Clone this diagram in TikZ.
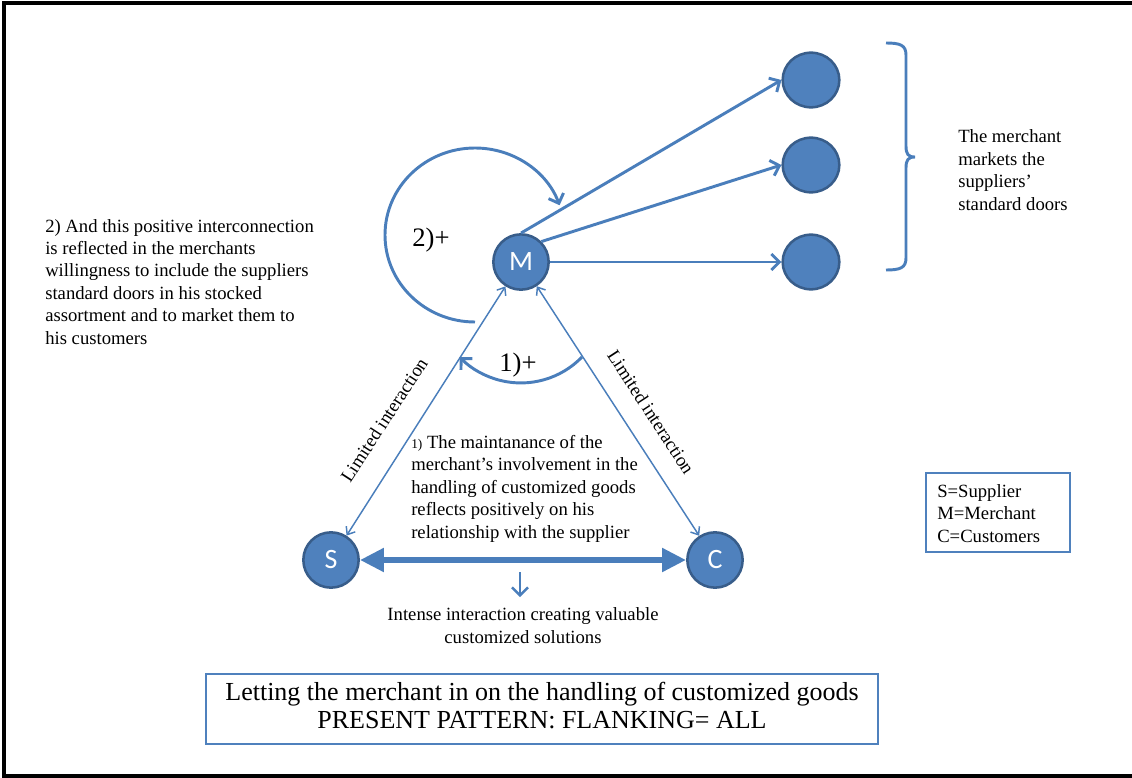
\documentclass[tikz,border=0pt]{standalone}
\usepackage{fontspec}
\setmainfont{Liberation Serif}
\newfontfamily\cali{Carlito}
\usetikzlibrary{arrows.meta,shapes.geometric}
\definecolor{nodefill}{HTML}{4F81BD}
\definecolor{nodeedge}{HTML}{385D8A}
\definecolor{linkblue}{HTML}{4A7EBB}
\begin{document}
\begin{tikzpicture}[x=0.75pt,y=-0.75pt,
  agent/.style={circle, fill=nodefill, draw=nodeedge, line width=1.9pt, minimum size=41.5pt, inner sep=0pt, text=white, font=\cali\fontsize{21}{24}\selectfont},
  target/.style={ellipse, fill=nodefill, draw=nodeedge, line width=1.9pt, minimum width=42.5pt, minimum height=41pt, inner sep=0pt},
  fan/.style={draw=linkblue, line width=2.2pt, -{Straight Barb[length=6pt,width=12pt]}},
  loopline/.style={draw=linkblue, line width=2.2pt, -{Straight Barb[length=6pt,width=12pt]}},
  thinlink/.style={draw=linkblue, line width=1.1pt, {Straight Barb[length=5pt,width=8pt]}-{Straight Barb[length=5pt,width=8pt]}},
  thicklink/.style={draw=linkblue, line width=4.5pt, {Triangle[length=18pt,width=17pt]}-{Triangle[length=18pt,width=17pt]}},
  txt/.style={inner sep=0pt, font=\fontsize{14}{16.8}\selectfont, align=left},
  bigtxt/.style={inner sep=0pt, font=\fontsize{20}{24}\selectfont},
  infobox/.style={draw=nodefill, line width=1.1pt, fill=none}
]
\useasboundingbox (0,0) rectangle (1132,778);
% frame
\draw[line width=2.4pt] (1132,3) -- (4,3) -- (4,776) -- (1132,776);

% nodes
\node[agent] (M) at (521,262) {M};
\node[agent] (S) at (331,560) {S};
\node[agent] (C) at (715,560) {C};
\node[target] (R1) at (811,80) {};
\node[target] (R2) at (811,165) {};
\node[target] (R3) at (811,262) {};

% fan arrows
\draw[fan] (M.north) -- (R1.west);
\draw[fan] (M.45) -- (R2.west);
\draw[fan] (M.east) -- (R3.west);

% brace
\draw[draw=linkblue, line width=2.2pt]
  (886,43) .. controls (900,43) and (906,45) .. (906,55) -- (906,146)
  .. controls (906,154) and (908,157) .. (915,157)
  .. controls (908,157) and (906,160) .. (906,168) -- (906,258)
  .. controls (906,268) and (900,270) .. (886,270);

% loops
\draw[loopline] (475,322) arc[start angle=90, end angle=340, x radius=90, y radius=87];
\draw[loopline] (582,357) arc[start angle=44, end angle=136, radius=85];
\node[bigtxt, anchor=base] (P2) at (431,246) {2)+};
\node[bigtxt, anchor=base] (P1) at (518,371) {1)+};

% triangle links
\draw[thinlink] (S) -- (M);
\draw[thinlink] (C) -- (M);
\draw[thicklink] (S) -- (C);
\node[txt, rotate=57] (L1) at (384,420) {Limited interaction};
\node[txt, rotate=-57] (L2) at (651,412) {Limited interaction};

% down arrow
\coordinate (d1) at (520,572);
\coordinate (d2) at (520,597);
\draw[fan, line width=1.8pt] (d1) -- (d2);

% texts (anchor = baseline of the last line)
\node[txt, anchor=base west] (T2) at (45,344) {2) And this positive interconnection\\is reflected in the merchants\\willingness to include the suppliers\\standard doors in his stocked\\assortment and to market them to\\his customers};
\node[txt, anchor=base west] (T1) at (411,538) {{\fontsize{10}{12}\selectfont 1)} The maintanance of the\\merchant’s involvement in the\\handling of customized goods\\reflects positively on his\\relationship with the supplier};
\node[txt, anchor=base west] (TR) at (958,210) {The merchant\\markets the\\suppliers’\\standard doors};
\node[txt, anchor=base, align=center] (TI) at (523,643) {Intense interaction creating valuable\\customized solutions};

% legend
\draw[infobox] (926,473) rectangle (1070,552);
\node[txt, anchor=base west] (LG) at (937,542) {S=Supplier\\M=Merchant\\C=Customers};

% bottom box
\draw[infobox] (206,674) rectangle (878,744);
\node[inner sep=0pt, anchor=base, align=center, font=\fontsize{19.5}{20.3}\selectfont] (TB) at (542,728) {Letting the merchant in on the handling of customized goods\\PRESENT PATTERN: FLANKING= ALL};
\end{tikzpicture}
\end{document}
